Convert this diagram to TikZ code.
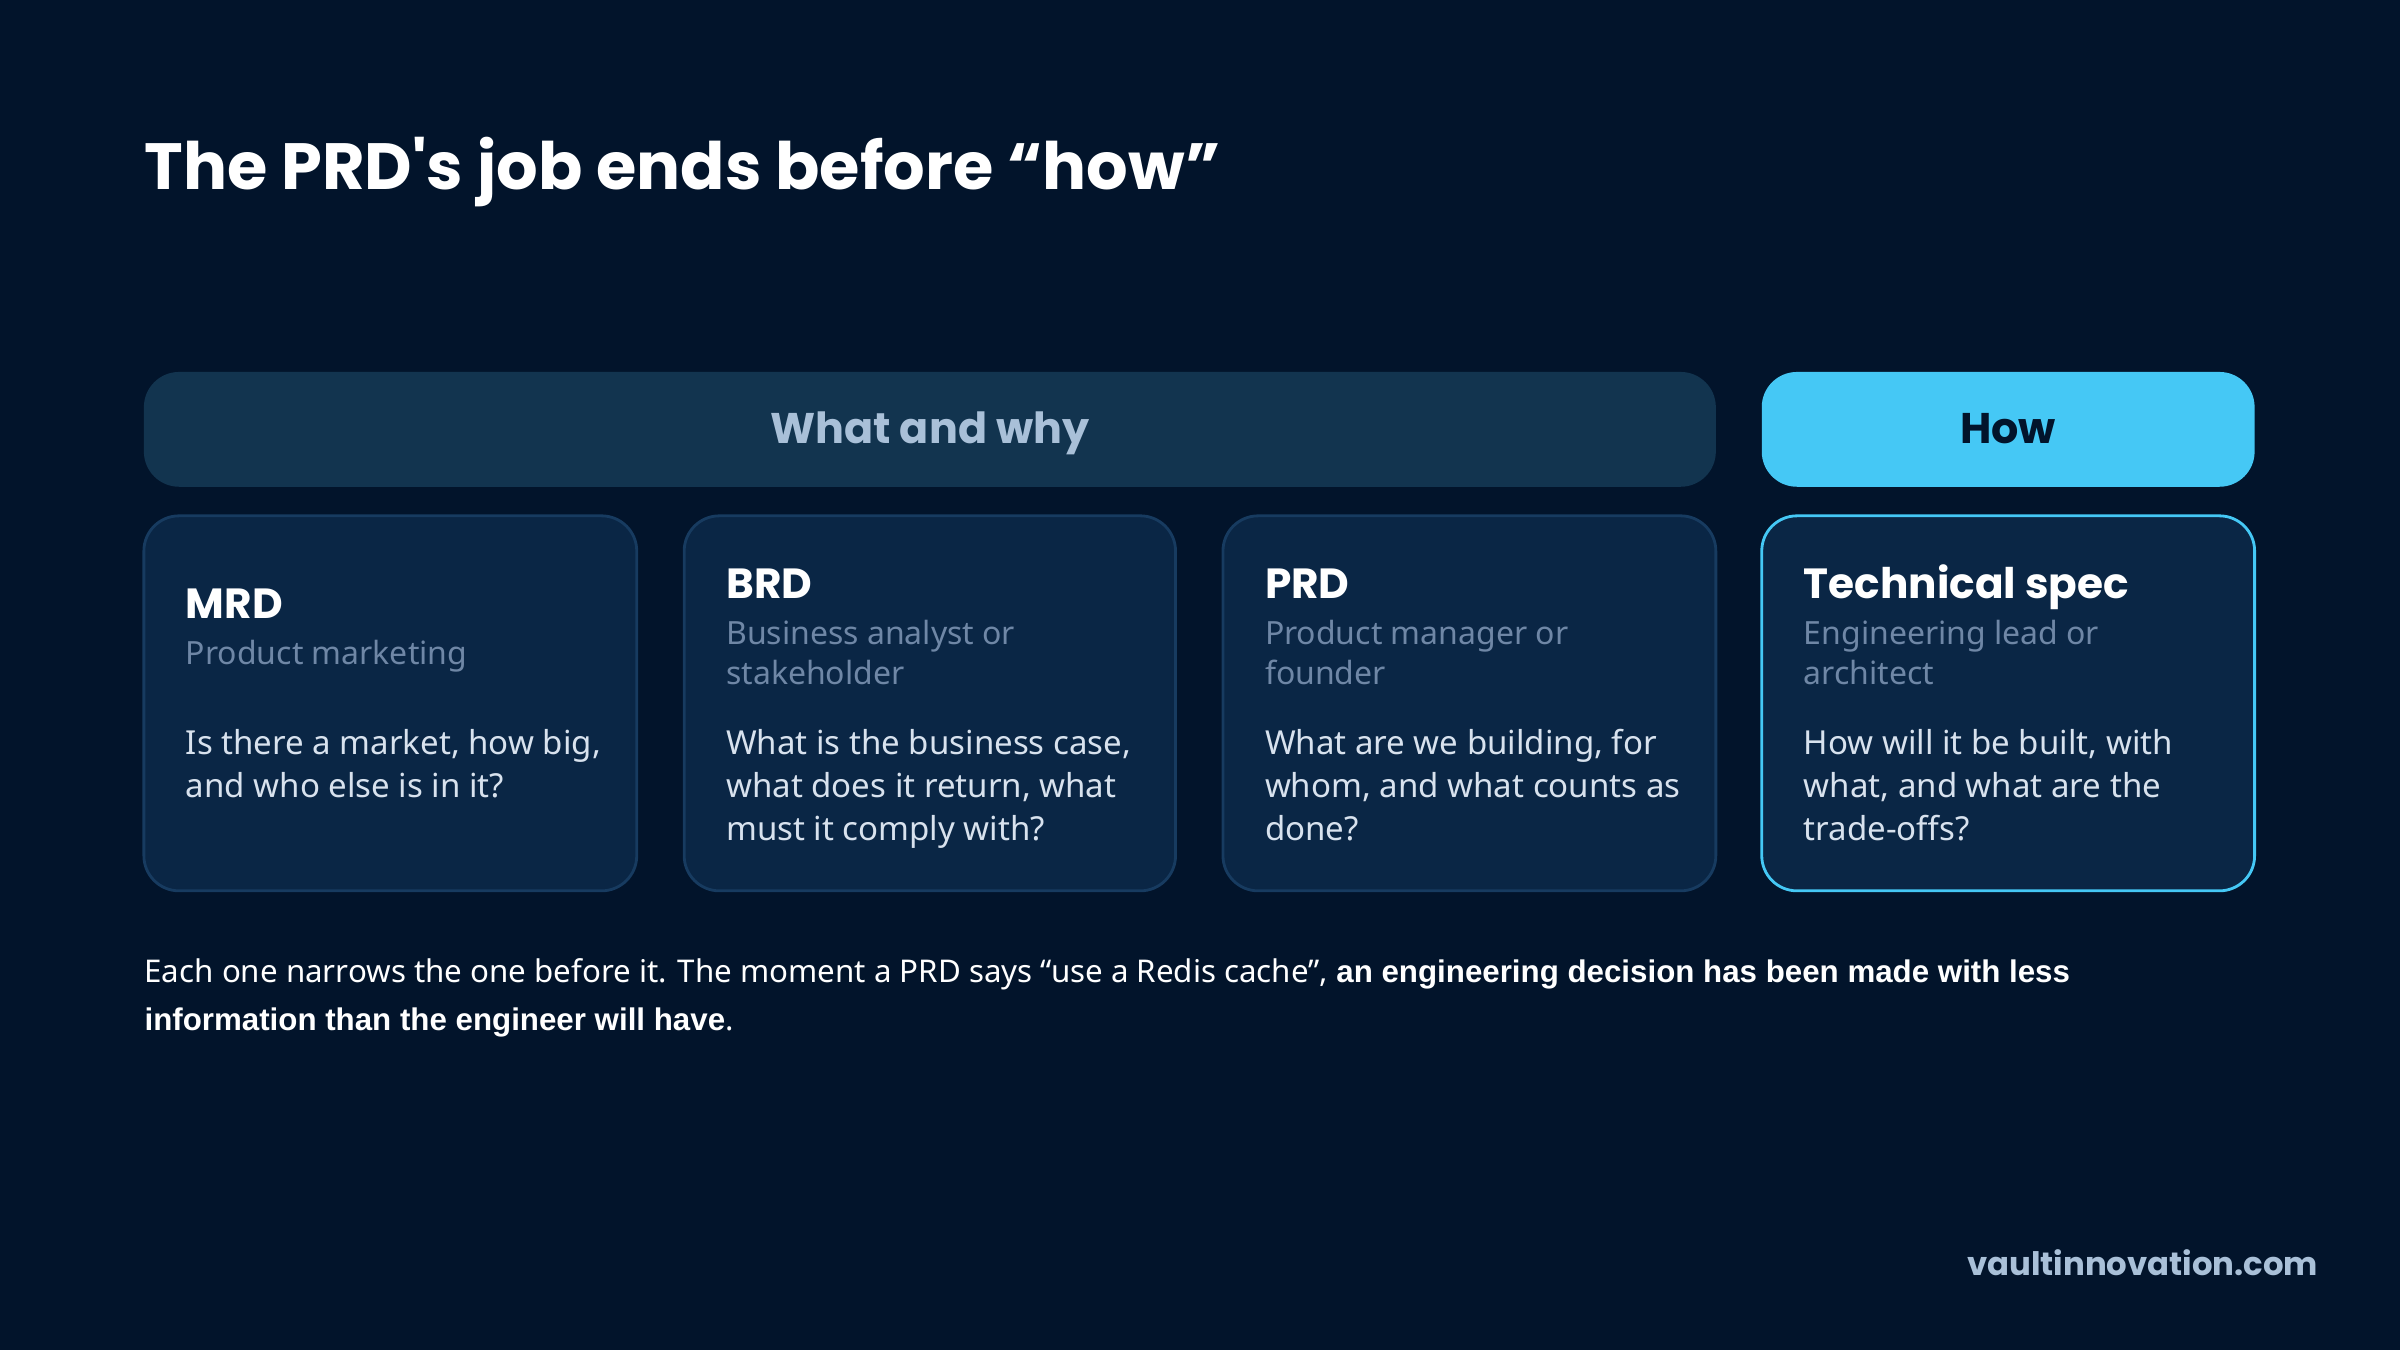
\documentclass[tikz,border=0pt]{standalone}
\usepackage{fontspec}
\setmainfont{Noto Sans}
\newfontfamily\pop{Poppins}
\newfontfamily\bfam{Liberation Sans}
\newcommand{\bt}[1]{{\bfam\bfseries #1}}
\definecolor{bg}{HTML}{02142B}
\definecolor{bar}{HTML}{12344F}
\definecolor{barT}{HTML}{A9C0D8}
\definecolor{cyanb}{HTML}{45C8F5}
\definecolor{card}{HTML}{0A2645}
\definecolor{cardB}{HTML}{173B60}
\definecolor{sub}{HTML}{6F87A6}
\definecolor{body}{HTML}{D8E2EE}
\begin{document}
\begin{tikzpicture}[x=0.015306cm,y=-0.015306cm,
  cardst/.style={fill=card,draw=cardB,line width=0.8pt,rounded corners=10pt},
  ttl/.style={anchor=base west,inner sep=0,text=white,font=\pop\bfseries\fontsize{12}{14}\selectfont},
  sb/.style={anchor=base west,inner sep=0,text=sub,font=\fontsize{9.1}{11}\selectfont},
  bd/.style={anchor=base west,inner sep=0,text=body,font=\fontsize{9.4}{12}\selectfont},
  ln/.style={anchor=base west,inner sep=0,text=white,font=\fontsize{8.9}{11}\selectfont}]
\fill[bg] (0,0) rectangle (1568,882);
\node[anchor=base west,inner sep=0,text=white,font=\pop\bfseries\fontsize{18.6}{23}\selectfont] (title) at (94,124) {The PRD's job ends before “how”};
\fill[bar,rounded corners=10pt] (94,243) rectangle (1121,318);
\node[anchor=base,inner sep=0,text=barT,font=\pop\bfseries\fontsize{12.2}{14}\selectfont] (ww) at (607.5,290) {What and why};
\fill[cyanb,rounded corners=10pt] (1151,243) rectangle (1473,318);
\node[anchor=base,inner sep=0,text=bg,font=\pop\bfseries\fontsize{12.2}{14}\selectfont] (how) at (1312,290) {How};
\draw[cardst] (94,337) rectangle (416,582);
\draw[cardst] (447,337) rectangle (768,582);
\draw[cardst] (799,337) rectangle (1121,582);
\draw[cardst,draw=cyanb] (1151,337) rectangle (1473,582);
% MRD
\node[ttl] (t1) at (121,404) {MRD};
\node[sb] (s1) at (121,434) {Product marketing};
\node[bd] (b1a) at (121,493) {Is there a market, how big,};
\node[bd] (b1b) at (121,521) {and who else is in it?};
% BRD
\node[ttl] (t2) at (474,391) {BRD};
\node[sb] (s2a) at (474,421) {Business analyst or};
\node[sb] (s2b) at (474,447) {stakeholder};
\node[bd] (b2a) at (474,493) {What is the business case,};
\node[bd] (b2b) at (474,521) {what does it return, what};
\node[bd] (b2c) at (474,549) {must it comply with?};
% PRD
\node[ttl] (t3) at (826,391) {PRD};
\node[sb] (s3a) at (826,421) {Product manager or};
\node[sb] (s3b) at (826,447) {founder};
\node[bd] (b3a) at (826,493) {What are we building, for};
\node[bd] (b3b) at (826,521) {whom, and what counts as};
\node[bd] (b3c) at (826,549) {done?};
% Tech
\node[ttl] (t4) at (1178,391) {Technical spec};
\node[sb] (s4a) at (1178,421) {Engineering lead or};
\node[sb] (s4b) at (1178,447) {architect};
\node[bd] (b4a) at (1178,493) {How will it be built, with};
\node[bd] (b4b) at (1178,521) {what, and what are the};
\node[bd] (b4c) at (1178,549) {trade-offs?};
% bottom
\node[ln] (l1) at (94,642) {Each one narrows the one before it. The moment a PRD says “use a Redis cache”, \bt{an engineering decision has been made with less}};
\node[ln] (l2) at (94,673) {\bt{information than the engineer will have}.};
\node[anchor=base east,inner sep=0,text=barT,font=\pop\bfseries\fontsize{9.2}{11}\selectfont] (foot) at (1515,833) {vaultinnovation.com};
\end{tikzpicture}
\end{document}
